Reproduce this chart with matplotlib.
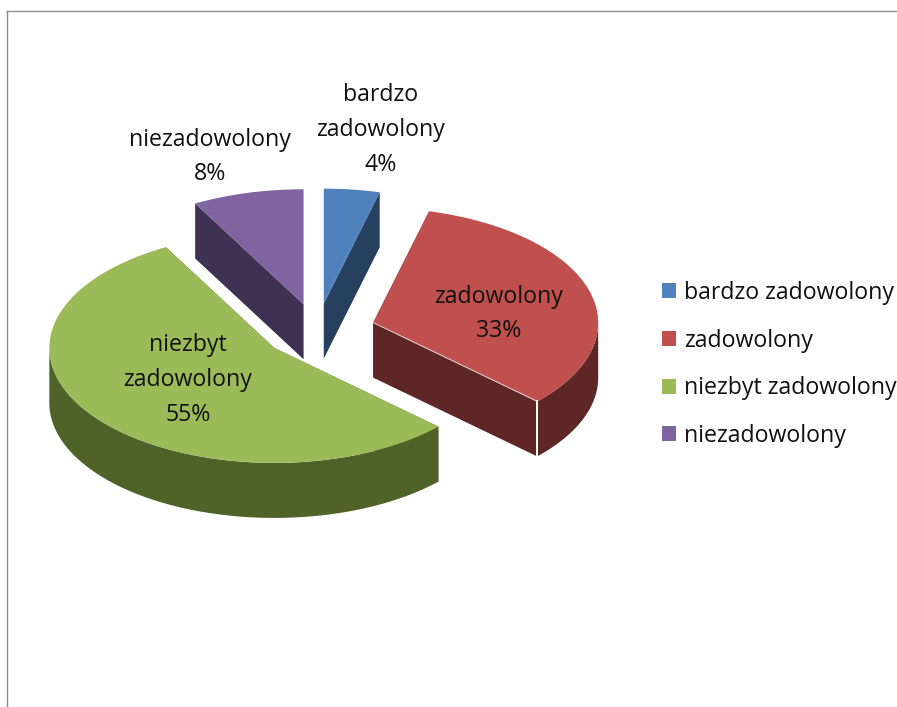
import numpy as np
import matplotlib
matplotlib.use('Agg')
import matplotlib.pyplot as plt
from matplotlib.lines import Line2D

plt.rcParams['font.family'] = ['Open Sans', 'DejaVu Sans']

categories = ['bardzo zadowolony', 'zadowolony', 'niezbyt zadowolony', 'niezadowolony']
shares = [4, 33, 55, 8]
top_colors = ['#4F81BD', '#C0504D', '#9BBB59', '#8064A2']
side_colors = ['#27405F', '#5E2726', '#4F6228', '#3F3151']
label_texts = ['bardzo\nzadowolony\n4%', 'zadowolony\n33%', 'niezbyt\nzadowolony\n55%', 'niezadowolony\n8%']

# pixel layout of the reference
W, H = 897, 707
CX, CY = 317, 331
RX, RY = 225, 115
DEPTH = 55 / RY
label_px = [(381, 130), (499, 314), (188, 380), (210, 157)]


def px(x, y):
    return (x - CX) / RX, (CY - y) / RY


fig = plt.figure(figsize=(W / 100, H / 100), dpi=100)
ax = fig.add_axes([0, 0, 1, 1])

wedges, _ = ax.pie(shares, colors=top_colors, explode=[0.24, 0.26, 0.24, 0.24], startangle=90,
                   counterclock=False, radius=1, wedgeprops={'zorder': 3, 'linewidth': 0})

for w, side in zip(wedges, side_colors):
    cx, cy = w.center
    # outer wall, only the front half can be seen
    t = np.radians(np.linspace(w.theta1, w.theta2, 200))
    t = t[np.sin(t) < 0]
    if len(t):
        xs = cx + np.cos(t)
        ys = cy + np.sin(t)
        ax.fill(np.r_[xs, xs[::-1]], np.r_[ys, ys[::-1] - DEPTH], color=side, lw=0, zorder=1)
    # cut faces
    for a in (w.theta1, w.theta2):
        ex = cx + np.cos(np.radians(a))
        ey = cy + np.sin(np.radians(a))
        ax.fill([cx, ex, ex, cx], [cy, ey, ey - DEPTH, cy - DEPTH], color=side, lw=0, zorder=2)

# light edge on the red slice
red = wedges[1]
ex = red.center[0] + np.cos(np.radians(red.theta1))
ey = red.center[1] + np.sin(np.radians(red.theta1))
ax.plot([ex, ex], [ey, ey - DEPTH], color='white', lw=1.4, zorder=4)
ax.plot([red.center[0], ex], [red.center[1], ey], color='#E8D0CF', lw=0.7, zorder=4)

ax.set_aspect('auto')
ax.set_xlim(px(0, 0)[0], px(W, 0)[0])
ax.set_ylim(px(0, H)[1], px(0, 0)[1])
ax.axis('off')

for txt, pos in zip(label_texts, label_px):
    x, y = px(*pos)
    ax.text(x, y, txt, ha='center', va='center', fontsize=16.7, color='#111111',
            linespacing=1.6, zorder=5)

ax.legend(wedges, categories, loc='upper left', bbox_to_anchor=(662 / W, 1 - 281 / H),
          bbox_transform=fig.transFigure, frameon=False, fontsize=16.7,
          handlelength=0.6, handleheight=0.6, handletextpad=0.34,
          labelspacing=1.02, borderpad=0, borderaxespad=0, labelcolor='#111111')

# chart area border, left and top only
fig.add_artist(Line2D([7 / W, 7 / W], [0, 1 - 11 / H], color='#8C8C8C', lw=1))
fig.add_artist(Line2D([7 / W, 1], [1 - 11 / H, 1 - 11 / H], color='#8C8C8C', lw=1))

fig.savefig('out.png', dpi=100)
